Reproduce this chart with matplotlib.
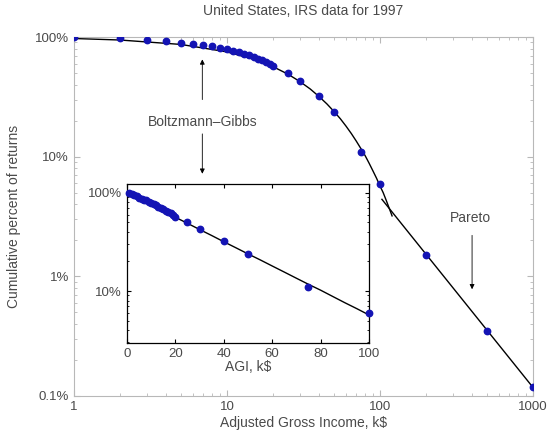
import matplotlib
matplotlib.use("Agg")
import matplotlib.pyplot as plt
from matplotlib.ticker import NullFormatter, LogLocator

plt.rcParams["font.family"] = ["Liberation Sans", "DejaVu Sans"]

# IRS 1997 data points (income in k$, percent of returns above)
income = [1, 2, 3, 4, 5, 6, 7, 8, 9, 10, 11, 12, 13, 14, 15, 16, 17, 18, 19, 20,
          25, 30, 40, 50, 75, 100, 200, 500, 1000]
percent = [100, 98, 95, 92.5, 89.5, 87, 85.5, 84, 81.5, 79, 77, 74.5, 72.5, 70.5,
           68.5, 66, 64, 62, 59.5, 57, 50, 43, 32, 23.8, 11, 5.9, 1.52, 0.35, 0.118]

# Boltzmann-Gibbs (exponential) fit curve
bg_income = [0, 1, 2, 5, 10, 15, 20, 25, 30, 35, 40, 45, 50, 55, 60, 65, 70, 75,
             80, 85, 90, 95, 100, 105, 110, 115, 120]
bg_percent = [100, 97.2, 94.4, 86.7, 75.1, 65.1, 56.5, 49.0, 42.4, 36.8, 31.8, 27.6,
              23.9, 20.8, 18.0, 15.6, 13.5, 11.7, 10.2, 8.8, 7.6, 6.6, 5.7, 5.0,
              4.3, 3.7, 3.2]

# Pareto (power law) fit line
pareto_income = [103, 1000]
pareto_percent = [4.4, 0.118]

dot_color = "#1414b4"
frame_gray = "#b8b8b8"
text_gray = "#4a4a4a"

fig = plt.figure(figsize=(5.5, 4.34), dpi=100)
ax = fig.add_axes([0.1345, 0.0876, 0.8345, 0.8271])

ax.plot(bg_income[1:], bg_percent[1:], color="black", lw=1.0, zorder=2)
ax.plot(pareto_income, pareto_percent, color="black", lw=1.0, zorder=2)
ax.plot(income, percent, "o", color=dot_color, ms=4.6, mec=dot_color, zorder=3)

ax.set_xscale("log")
ax.set_yscale("log")
ax.set_xlim(1, 1000)
ax.set_ylim(0.1, 100)
ax.set_xticks([1, 10, 100, 1000])
ax.set_xticklabels(["1", "10", "100", "1000"])
ax.set_yticks([0.1, 1, 10, 100])
ax.set_yticklabels(["0.1%", "1%", "10%", "100%"])
ax.xaxis.set_minor_locator(LogLocator(base=10, subs=range(2, 10)))
ax.yaxis.set_minor_locator(LogLocator(base=10, subs=range(2, 10)))
ax.xaxis.set_minor_formatter(NullFormatter())
ax.yaxis.set_minor_formatter(NullFormatter())
ax.tick_params(which="both", direction="in", top=True, right=True, color=frame_gray,
               labelsize=9.5, labelcolor=text_gray)
ax.tick_params(which="major", length=4)
ax.tick_params(which="minor", length=2)
for spine in ax.spines.values():
    spine.set_color(frame_gray)
    spine.set_linewidth(0.8)

ax.set_title("United States, IRS data for 1997", fontsize=10, color=text_gray, pad=16)
ax.set_xlabel("Adjusted Gross Income, k$", fontsize=10, color=text_gray, labelpad=2)
ax.set_ylabel("Cumulative percent of returns", fontsize=10, color=text_gray, labelpad=10)

arrow = dict(arrowstyle="-|>", lw=0.6, color="black", mutation_scale=7, shrinkA=0, shrinkB=0)
ax.text(6.9, 19.5, "Boltzmann\u2013Gibbs", ha="center", va="center", fontsize=10, color=text_gray)
ax.annotate("", xy=(6.9, 65), xytext=(6.9, 30), arrowprops=arrow)
ax.annotate("", xy=(6.9, 7.2), xytext=(6.9, 15.5), arrowprops=arrow)
ax.text(390, 3.1, "Pareto", ha="center", va="center", fontsize=10, color=text_gray)
ax.annotate("", xy=(400, 0.78), xytext=(400, 2.2), arrowprops=arrow)

# inset: same data on a linear income axis
ins = fig.add_axes([0.2309, 0.2097, 0.4400, 0.3664])
n_fit = bg_income.index(100) + 1
ins.plot(bg_income[:n_fit], bg_percent[:n_fit], color="black", lw=1.0, zorder=2)
ins_x = [x for x in income if x <= 100]
ins_y = percent[:len(ins_x)]
ins.plot(ins_x, ins_y, "o", color=dot_color, ms=4.6, mec=dot_color, zorder=3, clip_on=False)
ins.set_yscale("log")
ins.set_xlim(0, 100)
ins.set_ylim(2.95, 123.5)
ins.set_xticks([0, 20, 40, 60, 80, 100])
ins.set_yticks([10, 100])
ins.set_yticklabels(["10%", "100%"])
ins.yaxis.set_minor_locator(LogLocator(base=10, subs=range(2, 10)))
ins.yaxis.set_minor_formatter(NullFormatter())
ins.tick_params(which="both", direction="in", top=True, right=True, color="black",
                labelsize=9.5, labelcolor=text_gray)
ins.tick_params(which="major", length=3)
ins.tick_params(which="minor", length=1.5)
for spine in ins.spines.values():
    spine.set_color("black")
    spine.set_linewidth(0.9)
ins.set_xlabel("AGI, k$", fontsize=10, color=text_gray, labelpad=0)

fig.savefig("out.png", dpi=100)
